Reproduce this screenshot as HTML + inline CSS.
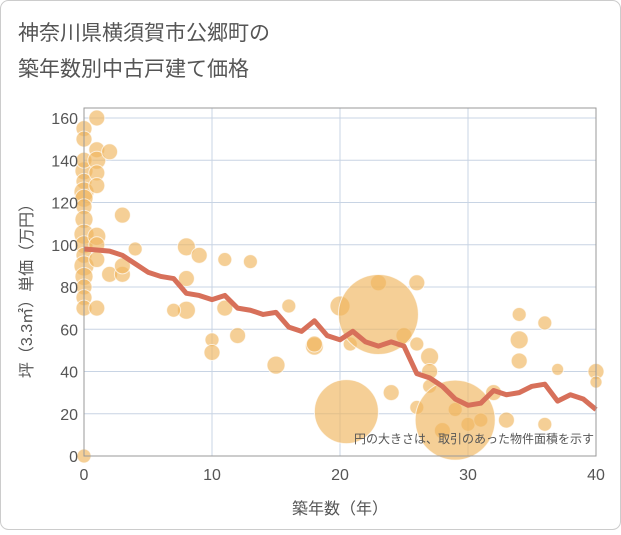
<!DOCTYPE html>
<html><head><meta charset="utf-8"><style>
body{margin:0;background:#fff;font-family:"Liberation Sans","Noto Sans CJK JP",sans-serif;}
</style></head><body>
<svg width="621" height="530" xmlns="http://www.w3.org/2000/svg" id="c">
<rect x="0.5" y="0.5" width="620" height="529" rx="8" fill="#fff" stroke="#ccc"/>
<text x="18" y="40" font-size="21" fill="#555" font-family="Liberation Sans, Noto Sans CJK JP, sans-serif">神奈川県横須賀市公郷町の</text>
<text x="18" y="76" font-size="21" fill="#555" font-family="Liberation Sans, Noto Sans CJK JP, sans-serif">築年数別中古戸建て価格</text>
<g id="grid"></g><g id="bubbles"></g><g id="line"></g><g id="axes"></g>
<text x="594" y="443" font-size="12" fill="#555" text-anchor="end" font-family="Liberation Sans, Noto Sans CJK JP, sans-serif">円の大きさは、取引のあった物件面積を示す</text>
<text x="340" y="514" font-size="16" fill="#555" text-anchor="middle" font-family="Liberation Sans, Noto Sans CJK JP, sans-serif">築年数（年）</text>
<text transform="translate(32,287) rotate(-90)" font-size="16" fill="#555" text-anchor="middle" font-family="Liberation Sans, Noto Sans CJK JP, sans-serif">坪（3.3㎡）単価（万円）</text>
</svg>
<script>
const xTicks=[0,10,20,30,40];
const yTicks=[0,20,40,60,80,100,120,140,160];
const lineYears=[0,1,2,3,4,5,6,7,8,9,10,11,12,13,14,15,16,17,18,19,20,21,22,23,24,25,26,27,28,29,30,31,32,33,34,35,36,37,38,39,40];
const lineValues=[98,97.5,97,95,91,87,85,84,77,76,74,76,70,69,67,68,61,59,64,57,55,59,54,52,54,52,39,37,33,27,24,25,31,29,30,33,34,26,29,27,22];
const bubbleX=[0,0,0,0,0,0,0,0,0,0,0,0,0,0,0,0,0,0,1,1,1,1,1,1,1,1,1,2,2,3,3,3,4,8,8,8,7,9,10,10,11,11,12,13,15,16,18,18,20,20.8,23,24,25,26,26,26,27,27,27,28,29,30,31,32,33,34,34,34,36,36,37,40,40,23,20.5,29];
const bubbleY=[155,150,135,130,125,122,118,112,105,100,95,90,85,80,75,70,0,140,160,145,140,134,128,104,100,93,70,144,86,114,86,90,98,99,84,69,69,95,55,49,93,70,57,92,43,71,52,53,71,53,82,30,57,82,53,23,47,40,33,12,22,15,17,30,17,67,55,45,63,15,41,40,35,67,21,17];
const bubbleR=[8,8,9,8,10,9,8,9,10,9,8,10,9,8,8,8,7,8,8,8,9,8,8,9,8,8,8,8,8,8,8,8,7,9,8,9,7,8,7,8,7,8,8,7,9,7,9,8,10,7,8,8,8,8,7,7,9,8,7,8,7,7,7,8,8,7,9,8,7,7,6,8,6,40,32,40];
const X0=84,X1=596,Y0=456,Y1=118;
const sx=v=>X0+(v-0)/40*(X1-X0);
const sy=v=>Y0-(v/160)*(Y0-Y1);
const NS="http://www.w3.org/2000/svg";
function mk(t,a,p){const e=document.createElementNS(NS,t);for(const k in a)e.setAttribute(k,a[k]);p.appendChild(e);return e;}
const g=document.getElementById('grid'),ax=document.getElementById('axes');
yTicks.forEach(v=>{
 const l=mk('line',{x1:X0,x2:X1,y1:sy(v),y2:sy(v),stroke:'#c8d4e4','stroke-width':1},g);
 
 
 const t=mk('text',{x:X0-6,y:sy(v)+6,'font-size':16,fill:'#555','text-anchor':'end'},ax);
 t.textContent=v;
 
 
});
xTicks.forEach(v=>{
 const l=mk('line',{x1:sx(v),x2:sx(v),y1:Y1-10,y2:Y0,stroke:'#c8d4e4','stroke-width':1},g);
 
 
 const t=mk('text',{x:sx(v),y:Y0+24,'font-size':16,fill:'#555','text-anchor':'middle'},ax);
 t.textContent=v;
 
 
});
const fr=mk('rect',{x:X0,y:Y1-10,width:X1-X0,height:Y0-Y1+10,fill:'none',stroke:'#999'},ax);


const bg=document.getElementById('bubbles');
bubbleX.forEach((x,i)=>{
 const c=mk('circle',{cx:sx(x),cy:sy(bubbleY[i]),r:bubbleR[i],fill:'#f0b55e','fill-opacity':0.65,stroke:'#fff','stroke-opacity':0.7,'stroke-width':1},bg);
 
 
});
const pts=lineYears.map((y,i)=>sx(y)+','+sy(lineValues[i])).join(' ');
const pl=mk('polyline',{points:pts,fill:'none',stroke:'#d7705a','stroke-width':5,'stroke-linejoin':'round'},document.getElementById('line'));


</script>
</body></html>
